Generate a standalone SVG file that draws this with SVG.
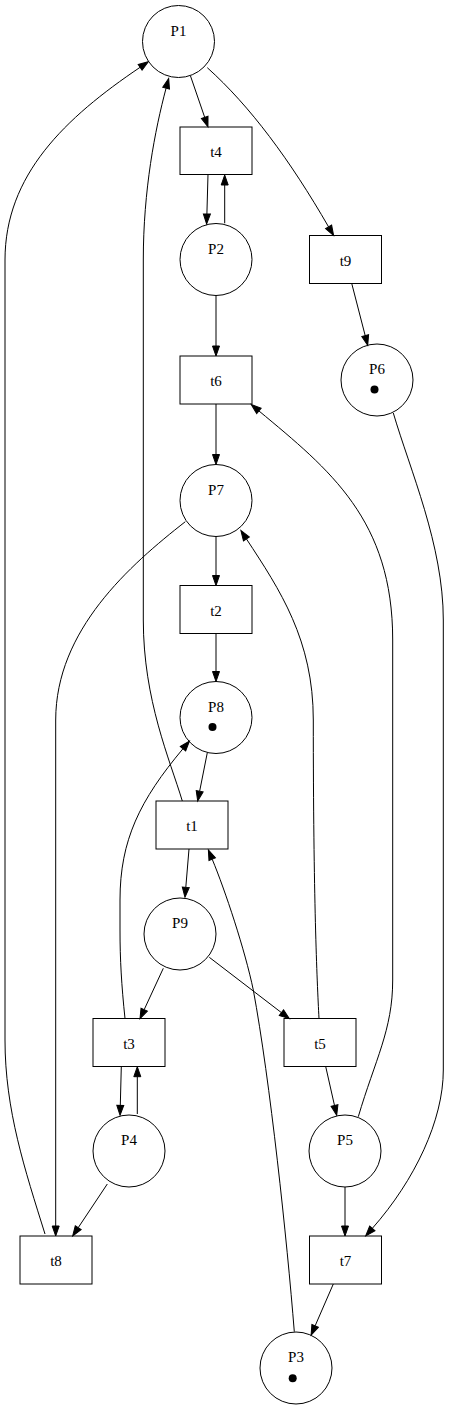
<svg xmlns="http://www.w3.org/2000/svg" width="449" height="1409" viewBox="0 0 449 1409">
<style>
.place circle.b{fill:none;stroke:#000;stroke-width:1}
.trans rect{fill:none;stroke:#000;stroke-width:1}
.tok{fill:#000;stroke:none}
text{font-family:"Liberation Serif","Times New Roman",serif;font-size:15px;fill:#000;text-anchor:middle}
.edges path{fill:none;stroke:#000;stroke-width:1;marker-end:url(#ah)}
</style>
<defs>
<marker id="ah" markerUnits="userSpaceOnUse" viewBox="-0.5 -0.5 11 8" refX="0" refY="3.5" markerWidth="11" markerHeight="8" orient="auto" overflow="visible">
<path d="M0,0 L10,3.5 L0,7 Z" fill="#000" stroke="#000" stroke-width="1"/>
</marker>
</defs>
<rect x="0" y="0" width="449" height="1409" fill="#fff"/>
<g class="edges" id="edges">
<path id="e_P1_t4" d="M190.5,76 L204.7,117.3"/>
<path id="e_P1_t9" d="M207.3,67.7 C250,106 290,160 328.6,226.9"/>
<path id="e_t4_P2" d="M208,174.3 L206.9,214"/>
<path id="e_P2_t4" d="M224.7,223.3 L224.7,185"/>
<path id="e_t9_P6" d="M351.7,283.3 L365.2,335.6"/>
<path id="e_P2_t6" d="M216,295.5 L216,346"/>
<path id="e_t6_P7" d="M216,404 L216,454.5"/>
<path id="e_P7_t2" d="M216,536.5 L216,575.5"/>
<path id="e_t2_P8" d="M216,633.5 L216,671.5"/>
<path id="e_P8_t1" d="M207.3,752.7 L199.65,791.2"/>
<path id="e_t1_P9" d="M189,849 L185.8,887.3"/>
<path id="e_P9_t3" d="M163.3,968.3 L144.2,1009.6"/>
<path id="e_P9_t5" d="M209.3,957.3 L281.4,1012.6"/>
<path id="e_t3_P4" d="M121.3,1066.5 L120.3,1105.3"/>
<path id="e_P4_t3" d="M137.3,1114 L137.3,1076.7"/>
<path id="e_t5_P5" d="M325.7,1066.5 L334.5,1105.5"/>
<path id="e_P4_t8" d="M107.3,1184 L78.2,1227.7"/>
<path id="e_P5_t7" d="M345,1187 L345,1226"/>
<path id="e_t7_P3" d="M333.3,1284 L315.1,1325.9"/>
<path id="e_P6_t7" d="M393.3,413 C410,470 443.3,545 443.3,620 L443.3,1070 C443.3,1120 415,1180 372.3,1228.4"/>
<path id="e_P5_t6" d="M358.3,1116.7 C375,1060 392.7,1030 392.7,980 L392.7,640 C392.7,520 330,470 258.9,410.9"/>
<path id="e_t5_P7" d="M319,1018.5 C317,980 313.3,900 313.3,720 C313.3,640 280,590 246.4,538.9"/>
<path id="e_t1_P1" d="M182.3,801 C170,760 143.3,700 143.3,620 L143.3,260 C143.3,190 155,130 166.1,88.1"/>
<path id="e_t3_P8" d="M125,1018.5 C121.5,985 120,960 120,930 L120,900 C120,840 140,800 183,748.7"/>
<path id="e_P3_t1" d="M294.3,1331.7 C287,1240 270,1080 253.3,990 C245,950 225,890 212.2,859.2"/>
<path id="e_P7_t8" d="M185.3,521.7 C130,565 55.7,630 55.7,720 L55.7,1226"/>
<path id="e_t8_P1" d="M45,1234 C25,1170 5,1110 5,1040 L5,260 C5,175 65,118 140.1,67.3"/>
</g>
<g id="P1" class="place"><circle class="b" cx="178.5" cy="41.5" r="36"/><text x="178.5" y="35.5">P1</text></g>
<g id="t4" class="trans"><rect x="180" y="127" width="72" height="47.5"/><text x="216" y="156.5">t4</text></g>
<g id="P2" class="place"><circle class="b" cx="216" cy="259.5" r="36"/><text x="216" y="253.5">P2</text></g>
<g id="t9" class="trans"><rect x="309.5" y="235.5" width="72" height="48"/><text x="345.5" y="265.5">t9</text></g>
<g id="t6" class="trans"><rect x="180" y="356" width="72" height="48"/><text x="216" y="386">t6</text></g>
<g id="P6" class="place"><circle class="b" cx="377" cy="380" r="36"/><text x="377" y="374">P6</text><circle class="tok" cx="374.5" cy="389.5" r="4"/></g>
<g id="P7" class="place"><circle class="b" cx="216" cy="500.5" r="36"/><text x="216" y="494.5">P7</text></g>
<g id="t2" class="trans"><rect x="180" y="585.5" width="72" height="48"/><text x="216" y="615.5">t2</text></g>
<g id="P8" class="place"><circle class="b" cx="216" cy="717.5" r="36"/><text x="216" y="711.5">P8</text><circle class="tok" cx="212.5" cy="727" r="4"/></g>
<g id="t1" class="trans"><rect x="156" y="801" width="72" height="48"/><text x="192" y="831">t1</text></g>
<g id="P9" class="place"><circle class="b" cx="180" cy="934" r="36"/><text x="180" y="928">P9</text></g>
<g id="t3" class="trans"><rect x="93" y="1018.5" width="72" height="48"/><text x="129" y="1048.5">t3</text></g>
<g id="t5" class="trans"><rect x="284" y="1018.5" width="72" height="48"/><text x="320" y="1048.5">t5</text></g>
<g id="P4" class="place"><circle class="b" cx="129" cy="1151" r="36"/><text x="129" y="1145">P4</text></g>
<g id="P5" class="place"><circle class="b" cx="345" cy="1151" r="36"/><text x="345" y="1145">P5</text></g>
<g id="t8" class="trans"><rect x="20" y="1236" width="72" height="48"/><text x="56" y="1266">t8</text></g>
<g id="t7" class="trans"><rect x="309.5" y="1236" width="72" height="48"/><text x="345.5" y="1266">t7</text></g>
<g id="P3" class="place"><circle class="b" cx="296" cy="1368" r="36"/><text x="296" y="1362">P3</text><circle class="tok" cx="292.7" cy="1378.3" r="4"/></g>
</svg>
